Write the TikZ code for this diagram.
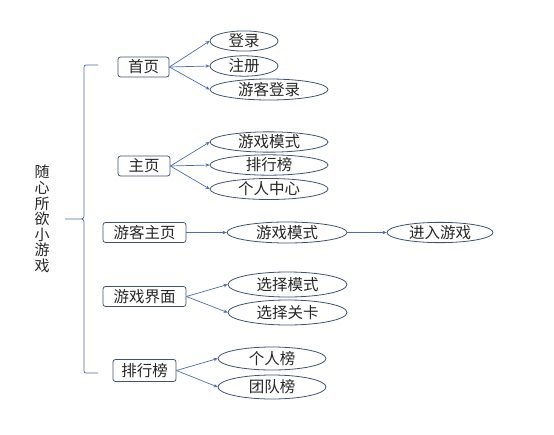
\documentclass[tikz,border=0pt]{standalone}
\usepackage{fontspec}
\setmainfont{Noto Sans CJK SC}
\usetikzlibrary{shapes.geometric,arrows.meta}
\definecolor{linec}{HTML}{4A6DB0}
\definecolor{boxc}{HTML}{3F5272}
\begin{document}
\begin{tikzpicture}[x=1pt,y=-1pt,
  every node/.style={font=\fontsize{15.5}{16}\selectfont, text=black!85},
  pbox/.style={draw=boxc, line width=0.8pt, rounded corners=2.5pt, inner sep=0pt, minimum height=20pt},
  oval/.style={draw=boxc, line width=0.8pt, ellipse, inner sep=0pt, minimum height=19pt},
  link/.style={draw=linec, line width=0.7pt, -{Stealth[length=4pt,width=3.5pt]}}]
\useasboundingbox (0,0) rectangle (554,434);
% title
\node[align=center, font=\fontsize{15}{15.6}\selectfont, inner sep=0pt] (title) at (42,219) {随\\心\\所\\欲\\小\\游\\戏};
% brace
\coordinate (bt) at (98,65);
\coordinate (bb) at (98,373);
\coordinate (bm) at (65,219);
\draw[linec, line width=0.7pt] (bt) -- (88,65) .. controls (84,65) .. (84,70) -- (84,213) .. controls (84,219) .. (78,219) -- (bm)
  (78,219) .. controls (84,219) .. (84,225) -- (84,368) .. controls (84,373) .. (88,373) -- (bb);
% boxes
\node[pbox, minimum width=51pt] (b1) at (143.5,67) {首页};
\node[pbox, minimum width=52pt] (b2) at (144,166) {主页};
\node[pbox, minimum width=83pt] (b3) at (144.5,232.5) {游客主页};
\node[pbox, minimum width=83pt] (b4) at (144.5,296.5) {游戏界面};
\node[pbox, minimum width=63pt, minimum height=22pt] (b5) at (144.5,370.5) {排行榜};
% ellipses
\node[oval, minimum width=68pt] (e1) at (244,41) {登录};
\node[oval, minimum width=68pt] (e2) at (244,66) {注册};
\node[oval, minimum width=118pt, minimum height=21pt] (e3) at (269,89.5) {游客登录};
\node[oval, minimum width=118pt, minimum height=20pt] (e4) at (269,142) {游戏模式};
\node[oval, minimum width=118pt, minimum height=20pt] (e5) at (269,165) {排行榜};
\node[oval, minimum width=118pt, minimum height=21pt] (e6) at (269,189) {个人中心};
\node[oval, minimum width=120pt, minimum height=21pt] (e7) at (287,232.5) {游戏模式};
\node[oval, minimum width=106pt, minimum height=20pt] (e8) at (440,232.5) {进入游戏};
\node[oval, minimum width=119pt, minimum height=25pt] (e9) at (287.5,284.5) {选择模式};
\node[oval, minimum width=119pt, minimum height=25pt] (e10) at (287.5,312.5) {选择关卡};
\node[oval, minimum width=108pt, minimum height=23pt] (e11) at (272,358.5) {个人榜};
\node[oval, minimum width=108pt, minimum height=24pt] (e12) at (272,387) {团队榜};
% links
\foreach \a/\b in {b1/e1,b1/e2,b1/e3,b2/e4,b2/e5,b2/e6,b3/e7,e7/e8,b4/e9,b4/e10,b5/e11,b5/e12}
  \draw[link] (\a.east) -- (\b.west);
\end{tikzpicture}
\end{document}
